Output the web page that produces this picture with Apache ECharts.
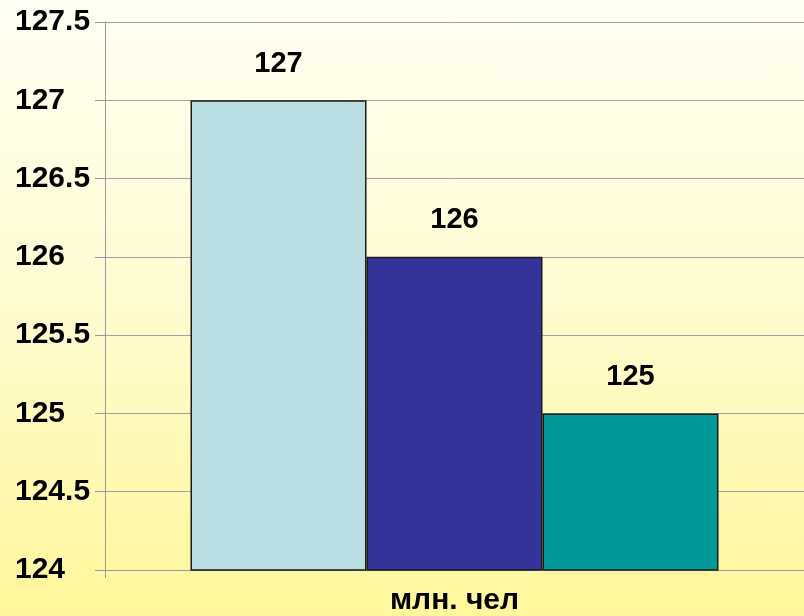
<!DOCTYPE html>
<html>
<head>
<meta charset="utf-8">
<script src="https://cdn.jsdelivr.net/npm/echarts@6/dist/echarts.min.js"></script>
<style>
  html, body { margin: 0; padding: 0; }
  body { background: linear-gradient(to bottom, #fffff4 0%, #fffbd0 50%, #fff79a 100%); }
  #chart { width: 804px; height: 616px; }
</style>
</head>
<body>
<div id="chart"></div>
<script>
// данные
var categories = ['млн. чел'];
var seriesNames = ['1', '2', '3'];
var values = [127, 126, 125];
var colors = ['#b9dfe3', '#333399', '#009999'];
var yMin = 124, yMax = 127.5, yStep = 0.5;

var chart = echarts.init(document.getElementById('chart'));

var series = [];
for (var i = 0; i < values.length; i++) {
    series.push({
        name: seriesNames[i],
        type: 'bar',
        data: [values[i]],
        barGap: '0%',
        barWidth: 176,
        itemStyle: {
            color: colors[i],
            borderColor: '#1a1a1a',
            borderWidth: 1.5
        },
        label: {
            show: true,
            position: 'top',
            distance: 22,
            color: '#000',
            fontSize: 29,
            fontWeight: 'bold',
            fontFamily: 'Liberation Sans'
        }
    });
}

chart.setOption({
    backgroundColor: 'transparent',
    animation: false,
    grid: { left: 105, width: 703, top: 22, bottom: 44 },
    xAxis: {
        type: 'category',
        data: categories,
        axisLine: { show: true, lineStyle: { color: '#999', width: 1 } },
        axisTick: { show: true, length: 8, lineStyle: { color: '#999' } },
        axisLabel: {
            margin: 16,
            color: '#000',
            fontSize: 30,
            fontWeight: 'bold',
            fontFamily: 'Liberation Sans'
        }
    },
    yAxis: {
        type: 'value',
        min: yMin,
        max: yMax,
        interval: yStep,
        axisLine: { show: true, lineStyle: { color: '#999', width: 1 } },
        axisTick: { show: true, length: 10, lineStyle: { color: '#999' } },
        splitLine: { show: true, lineStyle: { color: '#a0a0a0', width: 1 } },
        axisLabel: {
            margin: 90,
            align: 'left',
            color: '#000',
            fontSize: 30,
            fontWeight: 'bold',
            fontFamily: 'Liberation Sans'
        }
    },
    series: series
});
</script>
</body>
</html>
